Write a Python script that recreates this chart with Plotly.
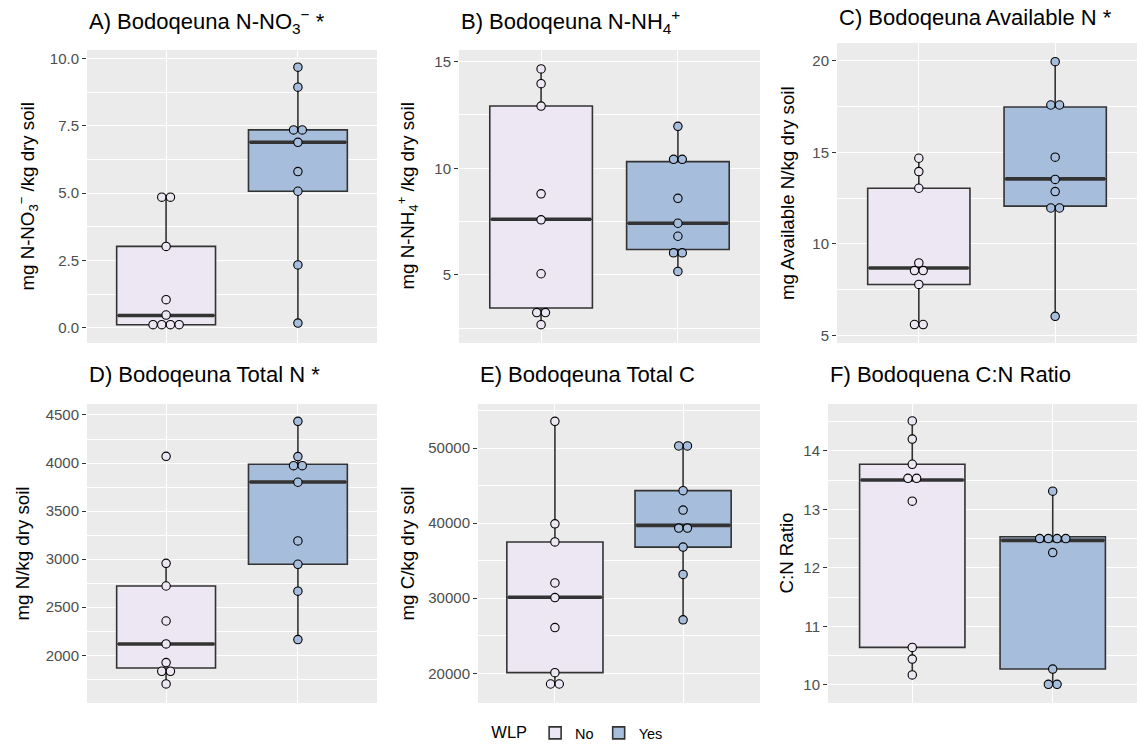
import plotly.graph_objects as go
import numpy as np

W, H = 1143, 754

# ---------------- data ----------------
groups = ["No", "Yes"]

no3_no = [4.85, 4.85, 3.02, 1.04, 0.47, 0.11, 0.11, 0.11, 0.11]
no3_yes = [9.68, 8.94, 7.35, 7.35, 6.89, 5.80, 5.07, 2.33, 0.17]
nh4_no = [14.66, 13.97, 12.92, 8.80, 7.58, 5.05, 3.23, 3.23, 2.66]
nh4_yes = [11.97, 10.42, 10.42, 8.59, 7.42, 6.81, 6.03, 6.03, 5.16]
avn_no = [14.68, 13.95, 13.04, 8.96, 8.54, 8.54, 7.78, 5.59, 5.59]
avn_yes = [19.96, 17.59, 17.59, 14.74, 13.52, 12.86, 11.96, 11.96, 6.04]
tn_no = [4070, 2957, 2721, 2357, 2118, 1924, 1834, 1834, 1702]
tn_yes = [4434, 4067, 3973, 3973, 3800, 3190, 2947, 2667, 2164]
tc_no = [53550, 39900, 37500, 32040, 30090, 26090, 20090, 18580, 18580]
tc_yes = [50270, 50270, 44320, 41740, 39340, 39340, 36810, 33170, 27130]
cn_no = [14.51, 14.20, 13.77, 13.53, 13.53, 13.14, 10.64, 10.44, 10.17]
cn_yes = [13.31, 12.50, 12.50, 12.50, 12.50, 12.26, 10.27, 10.01, 10.01]

# box statistics (q1, median, q3, lower whisker, upper whisker)
box_no3 = [[0.11, 0.45, 3.02, 0.11, 4.85], [5.07, 6.89, 7.35, 0.17, 9.68]]
box_nh4 = [[3.44, 7.61, 12.92, 2.66, 14.66], [6.19, 7.42, 10.31, 5.16, 11.97]]
box_avn = [[7.78, 8.68, 13.04, 5.59, 14.68], [12.06, 13.55, 17.48, 6.04, 19.96]]
box_tn = [[1868, 2118, 2721, 1702, 2957], [2947, 3803, 3987, 2164, 4434]]
box_tc = [[20090, 30130, 37490, 18580, 53550], [36810, 39700, 44320, 27130, 50270]]
box_cn = [[10.64, 13.50, 13.77, 10.17, 14.51], [10.27, 12.47, 12.53, 10.01, 13.31]]

titles = [
    "A) Bodoqeuna N-NO<sub>3</sub><sup>−</sup> *",
    "B) Bodoqeuna N-NH<sub>4</sub><sup>+</sup>",
    "C) Bodoqeuna Available N *",
    "D) Bodoqeuna Total N *",
    "E) Bodoqeuna Total C",
    "F) Bodoquena C:N Ratio",
]
ylabels = [
    "mg N-NO<sub>3</sub><sup>−</sup> /kg dry soil",
    "mg N-NH<sub>4</sub><sup>+</sup> /kg dry soil",
    "mg Available N/kg dry soil",
    "mg N/kg dry soil",
    "mg C/kg dry soil",
    "C:N Ratio",
]
tick_vals = [
    [0, 2.5, 5, 7.5, 10],
    [5, 10, 15],
    [5, 10, 15, 20],
    [2000, 2500, 3000, 3500, 4000, 4500],
    [20000, 30000, 40000, 50000],
    [10, 11, 12, 13, 14],
]
tick_text = [
    ["0.0", "2.5", "5.0", "7.5", "10.0"],
    ["5", "10", "15"],
    ["5", "10", "15", "20"],
    ["2000", "2500", "3000", "3500", "4000", "4500"],
    ["20000", "30000", "40000", "50000"],
    ["10", "11", "12", "13", "14"],
]
minor_dtick = [1.25, 2.5, 2.5, 250, 5000, 0.5]
y_ranges = [[-0.57, 10.32], [1.8, 15.55], [4.58, 20.98], [1504, 4614], [16050, 55860], [9.69, 14.80]]

series = [(no3_no, no3_yes), (nh4_no, nh4_yes), (avn_no, avn_yes),
          (tn_no, tn_yes), (tc_no, tc_yes), (cn_no, cn_yes)]
boxes = [box_no3, box_nh4, box_avn, box_tn, box_tc, box_cn]

# ---------------- layout geometry (pixels) ----------------
panels = [
    (87, 377, 50, 343),
    (459, 760, 50, 343),
    (837, 1137, 43, 343),
    (87, 377, 404, 703),
    (478, 760, 404, 703),
    (828, 1137, 404, 703),
]
title_base = [29, 28, 24, 381, 381, 381]
ylab_x = [28, 408, 787, 22, 407, 786]

fills = ["#ECE7F2", "#A6BDDB"]
dark = "#333333"
FONT = "Liberation Sans, Arial, sans-serif"
BOXW = 0.75
DOT_PX = 8.7

fig = go.Figure()
layout = dict(width=W, height=H, margin=dict(l=0, r=0, t=0, b=0),
              paper_bgcolor="white", plot_bgcolor="#EBEBEB",
              font=dict(family=FONT, color="black"),
              boxmode="overlay", annotations=[])

for i in range(6):
    k = "" if i == 0 else str(i + 1)
    xa, ya = "x" + k, "y" + k
    x0, x1, y0, y1 = panels[i]
    layout["xaxis" + k] = dict(
        domain=[x0 / W, x1 / W], anchor=ya, range=[0.4, 2.6],
        tickvals=[1, 2], showticklabels=False, ticks="",
        showgrid=True, gridcolor="white", gridwidth=1.1, zeroline=False,
        showline=False, fixedrange=True)
    layout["yaxis" + k] = dict(
        domain=[1 - y1 / H, 1 - y0 / H], anchor=xa, range=y_ranges[i],
        tickvals=tick_vals[i], ticktext=tick_text[i],
        ticks="outside", ticklen=4, tickwidth=1.1, tickcolor=dark,
        tickfont=dict(size=15, color="#4D4D4D", family=FONT),
        showgrid=True, gridcolor="white", gridwidth=1.1, zeroline=False,
        minor=dict(dtick=minor_dtick[i], tick0=0, showgrid=True,
                   gridcolor="white", gridwidth=0.55, ticks=""),
        showline=False, fixedrange=True)

    dot_unit = DOT_PX * 2.2 / (x1 - x0)
    for g in range(2):
        vals = series[i][g]
        q1, med, q3, lo, hi = boxes[i][g]
        xc = g + 1
        fig.add_trace(go.Box(
            x=[xc], q1=[q1], median=[med], q3=[q3], lowerfence=[lo], upperfence=[hi],
            width=BOXW, fillcolor=fills[g], line=dict(color=dark, width=1.6),
            whiskerwidth=0, boxpoints=False, name=groups[g],
            legendgroup=groups[g], showlegend=(i == 0), xaxis=xa, yaxis=ya,
            hoverinfo="skip"))
        # thick median line (ggplot fatten)
        fig.add_trace(go.Scatter(
            x=[xc - BOXW / 2 + 0.01, xc + BOXW / 2 - 0.01], y=[med, med], mode="lines",
            line=dict(color=dark, width=3.6), showlegend=False, xaxis=xa, yaxis=ya,
            hoverinfo="skip"))
        # centred dot stacks
        uniq = sorted(set(vals))
        xs, ys = [], []
        for u in uniq:
            n = vals.count(u)
            for j in range(n):
                xs.append(xc + (j - (n - 1) / 2) * dot_unit)
                ys.append(u)
        fig.add_trace(go.Scatter(
            x=xs, y=ys, mode="markers",
            marker=dict(size=8.4, color=fills[g], line=dict(color="black", width=1.1)),
            showlegend=False, xaxis=xa, yaxis=ya, hoverinfo="skip"))

    layout["annotations"].append(dict(
        text=titles[i], xref="paper", yref="paper", x=x0 / W, xanchor="left",
        y=1 - (title_base[i] - 7) / H, yanchor="middle", showarrow=False,
        font=dict(size=22, color="black", family=FONT)))
    layout["annotations"].append(dict(
        text=ylabels[i], xref="paper", yref="paper", x=ylab_x[i] / W, xanchor="center",
        y=1 - ((y0 + y1) / 2) / H, yanchor="middle", textangle=-90, showarrow=False,
        font=dict(size=18.7, color="black", family=FONT)))

layout["legend"] = dict(
    orientation="h", x=0.506, xanchor="center", y=1 - 733 / H, yanchor="middle",
    title=dict(text="WLP", font=dict(size=16.5, family=FONT, color="black")),
    font=dict(size=14.5, family=FONT, color="black"), itemwidth=30,
    bgcolor="rgba(0,0,0,0)", tracegroupgap=0)

fig.update_layout(**layout)
fig.write_html("out.html")
